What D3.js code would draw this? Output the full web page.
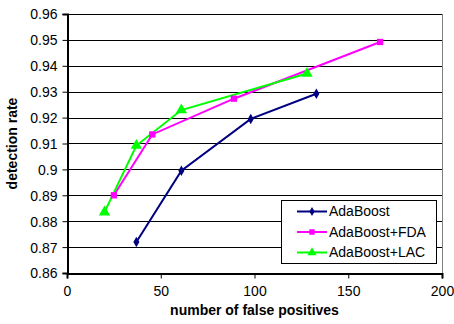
<!DOCTYPE html>
<html><head><meta charset="utf-8">
<script src="https://cdn.jsdelivr.net/npm/d3@7"></script>
<style>body{margin:0;background:#fff}svg{display:block}text{font-family:"Liberation Sans",Arial,sans-serif}</style>
</head><body><svg id="c" width="454" height="324"></svg>
<script>
const seriesNames = ["AdaBoost", "AdaBoost+FDA", "AdaBoost+LAC"];
const adaX = [37, 61, 98, 133];
const adaY = [0.872, 0.8995, 0.9195, 0.9292];
const fdaX = [25, 45.5, 89, 167];
const fdaY = [0.890, 0.9135, 0.9273, 0.9492];
const lacX = [20, 37, 61, 128];
const lacY = [0.8835, 0.9092, 0.9229, 0.9370];
const xTicks = [0, 50, 100, 150, 200];
const yTicks = [0.86, 0.87, 0.88, 0.89, 0.90, 0.91, 0.92, 0.93, 0.94, 0.95, 0.96];
const colors = ["#000080", "#FF00FF", "#00FF00"];
const shapes = [d3.symbolDiamond, d3.symbolSquare, d3.symbolTriangle];
const symSizes = [32, 40, 56];
const legendSizes = [24, 30, 36];

const svg = d3.select("#c");
const L = 67, R = 442, T = 14, B = 273;
const x = d3.scaleLinear().domain([0, 200]).range([L, R]);
const y = d3.scaleLinear().domain([0.86, 0.96]).range([B, T]);

svg.append("g").selectAll("line").data(yTicks).join("line")
  .attr("x1", L).attr("x2", R).attr("y1", d => Math.round(y(d)) + 0.5).attr("y2", d => Math.round(y(d)) + 0.5)
  .attr("stroke", "#000").attr("stroke-width", 1);
svg.append("line").attr("x1", R + 0.5).attr("x2", R + 0.5).attr("y1", T).attr("y2", B + 1).attr("stroke", "#808080");

const fmtY = d => { let s = d3.format(".2f")(d); if (s === "0.90") s = "0.9"; return s; };
const yAxis = svg.append("g").attr("transform", `translate(${L + 0.5},0)`)
  .call(d3.axisLeft(y).tickValues(yTicks).tickFormat(fmtY).tickSize(5).tickPadding(5));
const xAxis = svg.append("g").attr("transform", `translate(0,${B + 0.5})`)
  .call(d3.axisBottom(x).tickValues(xTicks).tickFormat(d3.format("d")).tickSize(5).tickPadding(8));
[yAxis, xAxis].forEach(a => {
  a.select(".domain").attr("stroke", "#000").attr("stroke-width", 2);
  a.selectAll(".tick line").attr("stroke", "#000");
  a.selectAll("text").attr("font-size", 14).attr("fill", "#000").attr("font-family", '"Liberation Sans",Arial,sans-serif');
});
yAxis.selectAll(".tick text").attr("dy", "0.35em");

const data = [[adaX, adaY], [fdaX, fdaY], [lacX, lacY]].map(([xs, ys]) => xs.map((v, i) => [v, ys[i]]));
const line = d3.line().x(d => x(d[0])).y(d => y(d[1]));
data.forEach((pts, k) => {
  svg.append("path").attr("d", line(pts)).attr("fill", "none").attr("stroke", colors[k]).attr("stroke-width", 2);
});
data.forEach((pts, k) => {
  svg.append("g").selectAll("path").data(pts).join("path")
    .attr("transform", d => `translate(${x(d[0])},${y(d[1])})`)
    .attr("d", d3.symbol().type(shapes[k]).size(symSizes[k]))
    .attr("fill", colors[k]);
});

svg.append("text").attr("x", (L + R) / 2).attr("y", 315).attr("text-anchor", "middle")
  .attr("font-size", 14).attr("font-weight", "bold").text("number of false positives");
svg.append("text").attr("transform", `translate(17,${(T + B) / 2}) rotate(-90)`).attr("text-anchor", "middle")
  .attr("font-size", 14).attr("font-weight", "bold").text("detection rate");

const lg = svg.append("g");
lg.append("rect").attr("x", 281.5).attr("y", 200.5).attr("width", 155).attr("height", 63)
  .attr("fill", "#fff").attr("stroke", "#000").attr("stroke-width", 1);
seriesNames.forEach((n, k) => {
  const yy = 211.5 + k * 20.5;
  lg.append("line").attr("x1", 297).attr("x2", 327).attr("y1", yy).attr("y2", yy).attr("stroke", colors[k]).attr("stroke-width", 2);
  lg.append("path").attr("transform", `translate(312,${yy})`).attr("d", d3.symbol().type(shapes[k]).size(legendSizes[k])).attr("fill", colors[k]);
  lg.append("text").attr("x", 329).attr("y", yy).attr("dy", "0.35em").attr("font-size", 14).text(n);
});
</script></body></html>
